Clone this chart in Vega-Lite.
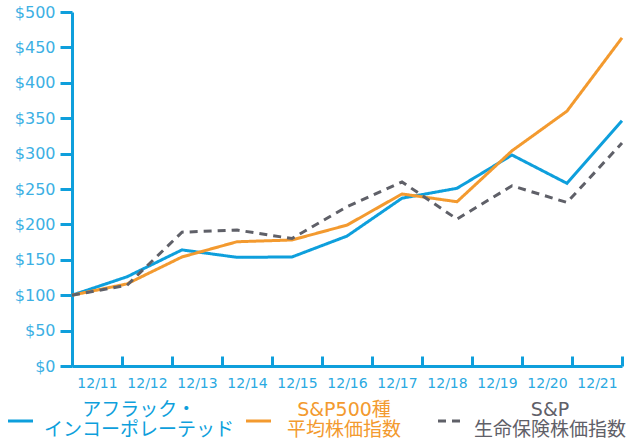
{
  "$schema": "https://vega.github.io/schema/vega-lite/v6.json",
  "autosize": "none",
  "width": 550,
  "height": 354,
  "padding": {"left": 72, "top": 12, "right": 14, "bottom": 73},
  "background": "white",
  "config": {"view": {"stroke": null}},
  "data": {
    "values": [
      {"year": "12/11", "series": "アフラック・インコーポレーテッド", "value": 100},
      {"year": "12/12", "series": "アフラック・インコーポレーテッド", "value": 126},
      {"year": "12/13", "series": "アフラック・インコーポレーテッド", "value": 164},
      {"year": "12/14", "series": "アフラック・インコーポレーテッド", "value": 153.5},
      {"year": "12/15", "series": "アフラック・インコーポレーテッド", "value": 154},
      {"year": "12/16", "series": "アフラック・インコーポレーテッド", "value": 183.5},
      {"year": "12/17", "series": "アフラック・インコーポレーテッド", "value": 237},
      {"year": "12/18", "series": "アフラック・インコーポレーテッド", "value": 251},
      {"year": "12/19", "series": "アフラック・インコーポレーテッド", "value": 298},
      {"year": "12/20", "series": "アフラック・インコーポレーテッド", "value": 258},
      {"year": "12/21", "series": "アフラック・インコーポレーテッド", "value": 346.5},
      {"year": "12/11", "series": "S&P500種平均株価指数", "value": 100},
      {"year": "12/12", "series": "S&P500種平均株価指数", "value": 116},
      {"year": "12/13", "series": "S&P500種平均株価指数", "value": 154},
      {"year": "12/14", "series": "S&P500種平均株価指数", "value": 175.5},
      {"year": "12/15", "series": "S&P500種平均株価指数", "value": 178},
      {"year": "12/16", "series": "S&P500種平均株価指数", "value": 199},
      {"year": "12/17", "series": "S&P500種平均株価指数", "value": 243},
      {"year": "12/18", "series": "S&P500種平均株価指数", "value": 232},
      {"year": "12/19", "series": "S&P500種平均株価指数", "value": 304},
      {"year": "12/20", "series": "S&P500種平均株価指数", "value": 360},
      {"year": "12/21", "series": "S&P500種平均株価指数", "value": 463.5},
      {"year": "12/11", "series": "S&P生命保険株価指数", "value": 100},
      {"year": "12/12", "series": "S&P生命保険株価指数", "value": 114},
      {"year": "12/13", "series": "S&P生命保険株価指数", "value": 189},
      {"year": "12/14", "series": "S&P生命保険株価指数", "value": 192},
      {"year": "12/15", "series": "S&P生命保険株価指数", "value": 180},
      {"year": "12/16", "series": "S&P生命保険株価指数", "value": 225},
      {"year": "12/17", "series": "S&P生命保険株価指数", "value": 260},
      {"year": "12/18", "series": "S&P生命保険株価指数", "value": 207.5},
      {"year": "12/19", "series": "S&P生命保険株価指数", "value": 254.5},
      {"year": "12/20", "series": "S&P生命保険株価指数", "value": 231},
      {"year": "12/21", "series": "S&P生命保険株価指数", "value": 315}
    ]
  },
  "layer": [
    {
      "mark": {"type": "rule", "strokeOpacity": 0},
      "encoding": {
        "x": {
          "field": "year",
          "type": "ordinal",
          "scale": {"type": "band", "paddingInner": 0, "paddingOuter": 0},
          "axis": {
            "orient": "bottom",
            "title": null,
            "labelAngle": 0,
            "domainColor": "#0e9fdc",
            "domainWidth": 3,
            "tickColor": "#0e9fdc",
            "tickWidth": 3,
            "tickSize": -10,
            "tickBand": "extent",
            "labelColor": "#2aa9e1",
            "labelFont": "DejaVu Sans",
            "labelFontSize": 14,
            "labelPadding": 20,
            "grid": false
          }
        }
      }
    },
    {
      "mark": {"type": "line", "strokeWidth": 3},
      "encoding": {
        "x": {
          "field": "year",
          "type": "ordinal",
          "scale": {"type": "point", "padding": 0},
          "axis": null
        },
        "y": {
          "field": "value",
          "type": "quantitative",
          "scale": {"domain": [0, 500], "nice": false},
          "axis": {
            "title": null,
            "values": [0, 50, 100, 150, 200, 250, 300, 350, 400, 450, 500],
            "labelExpr": "'$' + datum.value",
            "grid": false,
            "domainColor": "#0e9fdc",
            "domainWidth": 3,
            "tickColor": "#0e9fdc",
            "tickWidth": 3,
            "tickSize": 12,
            "labelColor": "#3cb0e4",
            "labelFont": "DejaVu Sans",
            "labelFontSize": 16,
            "labelPadding": 5
          }
        },
        "color": {
          "field": "series",
          "type": "nominal",
          "sort": ["アフラック・インコーポレーテッド", "S&P500種平均株価指数", "S&P生命保険株価指数"],
          "scale": {
            "domain": ["アフラック・インコーポレーテッド", "S&P500種平均株価指数", "S&P生命保険株価指数"],
            "range": ["#0e9fdc", "#f39a2f", "#5f6068"]
          },
          "legend": {
            "orient": "none",
            "legendX": -64,
            "legendY": 395,
            "direction": "horizontal",
            "title": null,
            "padding": 0,
            "columnPadding": 5,
            "symbolType": "stroke",
            "symbolSize": 625,
            "symbolStrokeWidth": 3,
            "labelFont": "DejaVu Sans, Noto Sans CJK JP",
            "labelFontSize": 19,
            "labelAlign": "center",
            "labelOffset": 0,
            "labelLimit": 400,
            "labelExpr": "datum.label == 'アフラック・インコーポレーテッド' ? ['アフラック・', 'インコーポレーテッド'] : datum.label == 'S&P500種平均株価指数' ? ['S&P500種', '平均株価指数'] : ['S&P', '生命保険株価指数']",
            "encode": {
              "labels": {
                "update": {
                  "fill": {"scale": "color", "field": "value"},
                  "lineHeight": {"value": 20},
                  "dy": {"value": -11},
                  "dx": {"signal": "datum.value == 'アフラック・インコーポレーテッド' ? 103 : datum.value == 'S&P500種平均株価指数' ? 70 : 115"}
                }
              },
              "symbols": {
                "update": {
                  "x": {"signal": "datum.value == 'S&P生命保険株価指数' ? 43.5 : 12.5"},
                  "strokeDash": {"signal": "datum.value == 'S&P生命保険株価指数' ? [6, 4] : []"}
                }
              }
            }
          }
        },
        "strokeDash": {
          "field": "series",
          "type": "nominal",
          "scale": {
            "domain": ["アフラック・インコーポレーテッド", "S&P500種平均株価指数", "S&P生命保険株価指数"],
            "range": [[1, 0], [1, 0], [8, 6]]
          },
          "legend": null
        }
      }
    }
  ],
  "resolve": {"scale": {"x": "independent"}, "axis": {"x": "independent"}}
}
